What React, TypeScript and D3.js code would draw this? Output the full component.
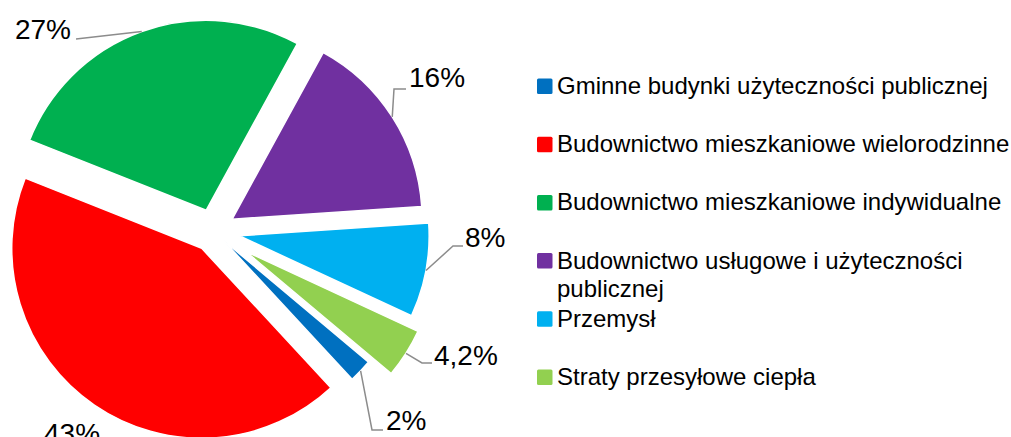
import React from "react";
import * as d3 from "d3";

const categories = [
  "Gminne budynki użyteczności publicznej",
  "Budownictwo mieszkaniowe wielorodzinne",
  "Budownictwo mieszkaniowe indywidualne",
  "Budownictwo usługowe i użyteczności publicznej",
  "Przemysł",
  "Straty przesyłowe ciepła",
];
const values = [2, 43, 27, 16, 8, 4.2];
const valueLabels = ["2%", "43%", "27%", "16%", "8%", "4,2%"];
const colors = ["#0070C0", "#FF0000", "#00B050", "#7030A0", "#00B0F0", "#92D050"];

// how far each slice is pulled out, px
const explode = [13, 21, 22, 22, 26, 38];

// label layout: leader points after the slice anchor, then text position
const labelLayout = [
  { pts: [[372, 430], [383, 430]], x: 386, y: 430, anchor: "start" },
  { pts: [], x: 44, y: 443, anchor: "start" },
  { pts: [[76, 39]], x: 71, y: 39, anchor: "end" },
  { pts: [[394, 89], [406, 89]], x: 409, y: 87, anchor: "start" },
  { pts: [[453, 246], [463, 246]], x: 465, y: 247, anchor: "start" },
  { pts: [[422, 363], [432, 363]], x: 434, y: 365, anchor: "start" },
];

// legend wraps the long entry
const legendLines = [
  ["Gminne budynki użyteczności publicznej"],
  ["Budownictwo mieszkaniowe wielorodzinne"],
  ["Budownictwo mieszkaniowe indywidualne"],
  ["Budownictwo usługowe i użyteczności", "publicznej"],
  ["Przemysł"],
  ["Straty przesyłowe ciepła"],
];

const W = 1011;
const H = 437;
const cx = 213.6;
const cy = 231;
const radius = 190;
const font = "'Liberation Sans', Arial, sans-serif";

export default function App() {
  const start = (130 * Math.PI) / 180;
  const pie = d3
    .pie<number>()
    .sort(null)
    .value((d) => d)
    .startAngle(start)
    .endAngle(start + 2 * Math.PI);
  const arcs = pie(values);
  const arc = d3.arc<d3.PieArcDatum<number>>().innerRadius(0).outerRadius(radius);

  return (
    <svg
      width={W}
      height={H}
      style={{ position: "absolute", left: 0, top: 0, background: "#fff" }}
      fontFamily={font}
    >
      <g transform={`translate(${cx},${cy})`}>
        {arcs.map((a, i) => {
          const mid = (a.startAngle + a.endAngle) / 2;
          const dx = Math.sin(mid) * explode[i];
          const dy = -Math.cos(mid) * explode[i];
          return (
            <path
              key={categories[i]}
              d={arc(a) || ""}
              transform={`translate(${dx},${dy})`}
              fill={colors[i]}
              stroke="#fff"
              strokeWidth={1.5}
              strokeLinejoin="round"
            />
          );
        })}
      </g>
      {arcs.map((a, i) => {
        const mid = (a.startAngle + a.endAngle) / 2;
        const rr = radius + explode[i];
        const ax = cx + Math.sin(mid) * rr;
        const ay = cy - Math.cos(mid) * rr;
        const lay = labelLayout[i];
        const line = d3.line()([[ax, ay], ...(lay.pts as [number, number][])]);
        return (
          <g key={valueLabels[i] + i}>
            {lay.pts.length > 0 && (
              <path d={line || ""} fill="none" stroke="#8C8C8C" strokeWidth={1.5} />
            )}
            <text x={lay.x} y={lay.y} fontSize={28} textAnchor={lay.anchor} fill="#000">
              {valueLabels[i]}
            </text>
          </g>
        );
      })}
      <g>
        {legendLines.map((lines, i) => {
          const base = 94 + i * 58.2;
          return (
            <g key={categories[i]}>
              <rect x={537} y={base - 15.5} width={15.5} height={15.5} rx={1.5} fill={colors[i]} />
              {lines.map((t, j) => (
                <text key={t} x={557} y={base + j * 28} fontSize={24} fill="#000">
                  {t}
                </text>
              ))}
            </g>
          );
        })}
      </g>
    </svg>
  );
}
